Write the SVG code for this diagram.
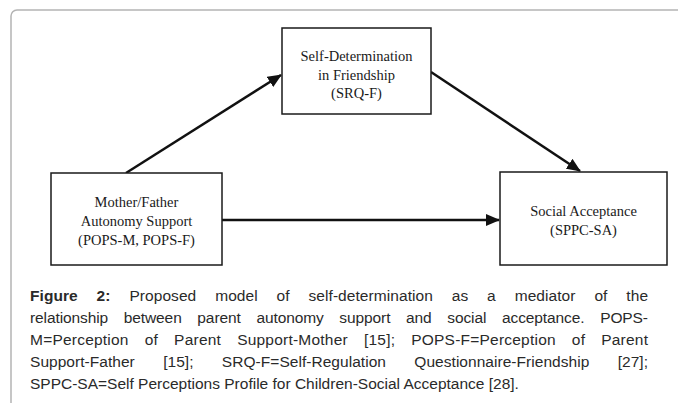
<svg xmlns="http://www.w3.org/2000/svg" width="678" height="403" viewBox="0 0 678 403">
<style>
.frame{fill:#fff;stroke:#b4b4b4;stroke-width:1.5}
.box{fill:#fff;stroke:#1a1a1a;stroke-width:1.5}
.lbl{font-family:"Liberation Serif","Times New Roman",serif;font-size:14.5px;fill:#1a1a1a;text-anchor:middle}
.edge{stroke:#111;stroke-width:2.5;fill:none}
.cap{font-family:"Liberation Sans",Arial,sans-serif;font-size:15.5px;fill:#2a2a2a}
.b{font-weight:bold}
</style>
<defs>
<marker id="ah" markerUnits="userSpaceOnUse" markerWidth="14" markerHeight="12" viewBox="0 0 14 12" refX="13" refY="6" orient="auto">
<path d="M0,0 L14,6 L0,12 Z" fill="#111"/>
</marker>
</defs>
<rect class="frame" x="11" y="10" width="700" height="430" rx="6"/>
<g id="connectors">
<line class="edge" x1="126" y1="173" x2="281" y2="75" marker-end="url(#ah)"/>
<line class="edge" x1="431" y1="72" x2="580" y2="171" marker-end="url(#ah)"/>
<line class="edge" x1="222" y1="220" x2="499" y2="220" marker-end="url(#ah)"/>
</g>
<g id="node-srqf">
<rect class="box" x="282" y="28" width="149" height="86"/>
<text class="lbl" x="356.5" y="61">Self-Determination</text>
<text class="lbl" x="356.5" y="79.5">in Friendship</text>
<text class="lbl" x="356.5" y="98">(SRQ-F)</text>
</g>
<g id="node-pops">
<rect class="box" x="51" y="173" width="171" height="92"/>
<text class="lbl" x="136.5" y="207">Mother/Father</text>
<text class="lbl" x="136.5" y="226">Autonomy Support</text>
<text class="lbl" x="136.5" y="245">(POPS-M, POPS-F)</text>
</g>
<g id="node-sppc">
<rect class="box" x="500" y="172" width="167" height="93"/>
<text class="lbl" x="583.5" y="216">Social Acceptance</text>
<text class="lbl" x="583.5" y="235">(SPPC-SA)</text>
</g>
<g id="caption">
<text class="cap" x="30" y="301" textLength="618" lengthAdjust="spacing" style="word-spacing:14.5px"><tspan class="b">Figure 2:</tspan> Proposed model of self-determination as a mediator of the</text>
<text class="cap" x="30" y="323" textLength="618" lengthAdjust="spacing" style="word-spacing:11.5px">relationship between parent autonomy support and social acceptance. POPS-</text>
<text class="cap" x="30" y="345" textLength="618" lengthAdjust="spacing" style="word-spacing:11.5px">M=Perception of Parent Support-Mother [15]; POPS-F=Perception of Parent</text>
<text class="cap" x="30" y="367" textLength="618" lengthAdjust="spacing" style="word-spacing:24px">Support-Father [15]; SRQ-F=Self-Regulation Questionnaire-Friendship [27];</text>
<text class="cap" x="30" y="389">SPPC-SA=Self Perceptions Profile for Children-Social Acceptance [28].</text>
</g>
</svg>
